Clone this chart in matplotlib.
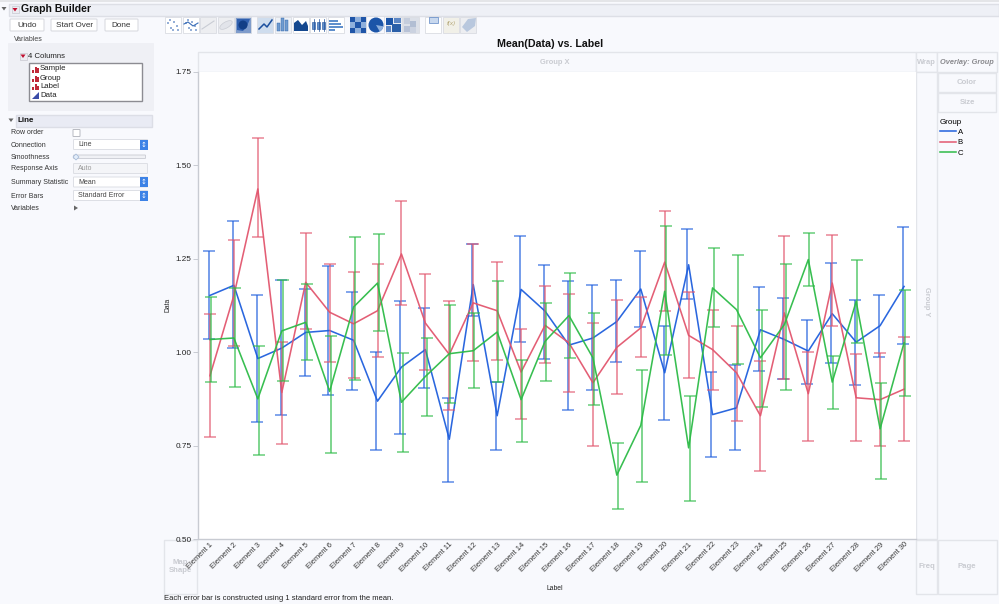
import matplotlib
matplotlib.use('Agg')
import matplotlib.pyplot as plt
from matplotlib.patches import Rectangle, FancyBboxPatch, Polygon, Circle, Wedge, Ellipse
import numpy as np

plt.rcParams['font.family'] = ['Liberation Sans', 'DejaVu Sans']

labels = [f'Element {i}' for i in range(1, 31)]
a_mean = [1.152,1.179,0.983,1.011,1.053,1.058,1.032,0.869,0.960,1.007,0.767,1.181,0.830,1.168,1.110,1.019,1.038,1.082,1.169,0.945,1.234,0.833,0.851,1.060,1.034,1.003,1.103,1.027,1.071,1.176]
a_hi = [1.270,1.351,1.152,1.194,1.169,1.232,1.161,1.000,1.136,1.117,0.877,1.289,0.921,1.310,1.233,1.190,1.181,1.192,1.270,1.069,1.331,0.947,0.965,1.174,1.145,1.086,1.240,1.139,1.154,1.336]
a_lo = [1.034,1.010,0.813,0.833,0.935,0.885,0.900,0.739,0.782,0.903,0.652,1.096,0.737,1.026,0.983,0.844,0.898,0.975,1.068,0.819,1.143,0.720,0.737,0.950,0.927,0.916,0.970,0.911,0.988,1.023]
b_mean = [0.937,1.152,1.437,0.892,1.187,1.107,1.076,1.111,1.263,1.078,0.994,1.132,1.111,0.947,1.072,1.025,0.918,1.013,1.065,1.241,1.045,1.007,0.945,0.830,1.105,0.889,1.185,0.878,0.873,0.901]
b_hi = [1.103,1.300,1.573,1.027,1.318,1.236,1.216,1.235,1.405,1.208,1.138,1.289,1.242,1.062,1.176,1.156,1.078,1.141,1.147,1.378,1.161,1.114,1.069,0.976,1.310,1.001,1.314,0.996,0.997,1.040]
b_lo = [0.772,1.016,1.309,0.753,1.062,0.973,0.932,0.988,1.126,0.953,0.844,0.976,0.978,0.821,0.971,0.894,0.748,0.889,0.988,1.111,0.931,0.900,0.816,0.681,0.928,0.761,1.069,0.761,0.748,0.763]
c_mean = [1.034,1.038,0.875,1.057,1.080,0.895,1.121,1.185,0.866,0.935,0.996,1.004,1.054,0.873,1.029,1.098,0.985,0.671,0.804,1.163,0.744,1.172,1.114,0.985,1.074,1.248,0.920,1.136,0.795,1.025]
c_hi = [1.147,1.172,1.016,1.192,1.183,1.043,1.309,1.316,0.997,1.038,1.127,1.105,1.190,0.980,1.132,1.213,1.106,0.756,0.953,1.337,0.884,1.279,1.261,1.113,1.235,1.320,0.989,1.247,0.918,1.166]
c_lo = [0.919,0.907,0.724,0.922,0.980,0.731,0.926,1.057,0.734,0.828,0.864,0.903,0.921,0.760,0.924,0.985,0.859,0.581,0.652,0.992,0.601,1.067,0.968,0.853,0.898,1.176,0.849,1.024,0.660,0.884]
groups = ['A', 'B', 'C']
y_ticks = [0.50, 0.75, 1.00, 1.25, 1.50, 1.75]
colors = {'A': '#1F5FDD', 'B': '#E2566E', 'C': '#2DBB47'}
series = {'A': (a_mean, a_hi, a_lo), 'B': (b_mean, b_hi, b_lo), 'C': (c_mean, c_hi, c_lo)}
dodge = {'A': -0.05, 'B': 0.0, 'C': 0.05}

BG = '#F8F9FD'
EDGE = '#E3E5EA'
fig = plt.figure(figsize=(9.99, 6.04), dpi=100, facecolor=BG)

# ---------- interface layer, in pixel coordinates ----------
ui = fig.add_axes([0, 0, 1, 1], zorder=0)
ui.set_xlim(0, 999); ui.set_ylim(604, 0); ui.axis('off')

def box(x0, y0, x1, y1, fc=BG, ec=EDGE, lw=1.0):
    ui.add_patch(Rectangle((x0, y0), x1 - x0, y1 - y0, fc=fc, ec=ec, lw=lw))

def txt(x, y, s, size=5.6, color='#222222', ha='left', **kw):
    ui.text(x, y, s, fontsize=size, color=color, ha=ha, va='center', **kw)

def tri_down(x, y, s=3, c='#555555'):
    ui.add_patch(Polygon([(x - s, y - s * .6), (x + s, y - s * .6), (x, y + s * .8)], fc=c, ec='none'))

def redbtn(x, y):
    ui.add_patch(Rectangle((x - 3.5, y - 3.5), 7, 7, fc='#ECECF2', ec='#C8C8D0', lw=.5))
    tri_down(x, y, 2.5, '#C01030')

def button(x0, y0, x1, y1, s):
    ui.add_patch(FancyBboxPatch((x0 + 1, y0 + 1), x1 - x0 - 2, y1 - y0 - 2, boxstyle='round,pad=1',
                                fc='white', ec='#DADCE2', lw=.8))
    txt((x0 + x1) / 2, (y0 + y1) / 2 + .5, s, 5.9, '#333333', ha='center')

# title bar
ui.add_patch(Rectangle((0, 0), 999, 2, fc='#E4E5E8', ec='none'))
box(9, 4, 999, 16, fc='#EEF0F6', ec='#DDDFE6')
tri_down(4, 8.5, 2.5, '#666666')
redbtn(15, 9.5)
txt(21, 9, 'Graph Builder', 7.6, '#111111', fontweight='bold')
button(10, 19, 44, 31, 'Undo')
button(51, 19, 97, 31, 'Start Over')
button(105, 19, 138, 31, 'Done')
txt(14, 39.5, 'Variables', 5.0, '#444444')

# columns panel
ui.add_patch(FancyBboxPatch((9, 44), 144, 66, boxstyle='round,pad=1', fc='#EFF0F5', ec='none'))
redbtn(23, 56)
txt(28, 57, '4 Columns', 5.6)
box(29, 62.5, 141.5, 101, fc='white', ec='#8C8C92', lw=1)
for yy, nm, cont in [(69, 'Sample', False), (78, 'Group', False), (86.5, 'Label', False), (95.5, 'Data', True)]:
    if cont:
        ui.add_patch(Polygon([(32, yy + 3.5), (39, yy + 3.5), (39, yy - 3.5)], fc='#3A4CA8', ec='none'))
    else:
        for dx, h in [(32, 3), (34.5, 6), (37, 4.5)]:
            ui.add_patch(Rectangle((dx, yy + 3.5 - h), 2, h, fc='#C02838', ec='none'))
    txt(40, yy, nm, 5.6)

# line panel
tri_down(11, 120, 2.5, '#666666')
box(16, 115, 152, 126.5, fc='#E9EBF4', ec='#DCDEE6')
txt(18, 120.5, 'Line', 5.8, '#111111', fontweight='bold')
rows = [(133, 'Row order'), (145.5, 'Connection'), (157.5, 'Smoothness'), (169, 'Response Axis'),
        (182.5, 'Summary Statistic'), (196, 'Error Bars'), (208, 'Variables')]
for yy, nm in rows:
    txt(11, yy, nm, 5.0, '#333333')
ui.add_patch(FancyBboxPatch((73.5, 130), 6, 6, boxstyle='round,pad=.5', fc='white', ec='#B8BAC2', lw=.7))

def combo(yy, s, on=True):
    ui.add_patch(FancyBboxPatch((74, yy - 4.5), 73, 9, boxstyle='round,pad=.5',
                                fc='white' if on else '#F4F5F8', ec='#DDDFE5', lw=.7))
    txt(78, yy, s, 5.0, '#444444' if on else '#999999')
    if on:
        ui.add_patch(Rectangle((139.5, yy - 5), 8, 10, fc='#3C82E6', ec='none'))
        ui.text(143.5, yy, '\u2195', fontsize=5, color='white', ha='center', va='center', family='DejaVu Sans')

combo(144.5, 'Line')
ui.add_patch(FancyBboxPatch((74, 155.5), 71, 2.5, boxstyle='round,pad=.5', fc='#F0F1F5', ec='#C9CBD2', lw=.6))
ui.add_patch(Polygon([(73, 157), (76, 154), (79, 157), (76, 160)], fc='#E4EEFA', ec='#A8BCD8', lw=.6))
combo(168.5, 'Auto', on=False)
combo(182, 'Mean')
combo(195.5, 'Standard Error')
ui.add_patch(Polygon([(74, 205.5), (74, 210.5), (78, 208)], fc='#666666', ec='none'))

# toolbar icons
icon_x = [165, 183, 200, 218, 235, 257, 275, 293, 310, 328, 350, 368, 386, 403, 425, 443, 460]
icon_c = ['#FFFFFF', '#FFFFFF', '#EDEEF1', '#EDEEF1', '#7F9CCB', '#CFDDEE', '#EEF2F8', '#FFFFFF', '#FFFFFF', '#FFFFFF',
          '#9DB8DE', '#F8F9FD', '#E8ECF3', '#DCE0E8', '#FFFFFF', '#F1F0E8', '#EDEEF1']
for xx, cc in zip(icon_x, icon_c):
    ui.add_patch(Rectangle((xx, 17), 16, 16, fc=cc, ec='#DADCE2', lw=.6))
for dx, dy in [(3, 6), (6, 11), (9, 5), (12, 9), (5, 3), (13, 13), (8, 13)]:
    ui.add_patch(Circle((165 + dx, 17 + dy), .8, fc='#2F62B0', ec='none'))
    ui.add_patch(Circle((183 + dx, 17 + dy), .8, fc='#2F62B0', ec='none'))
ui.plot([184, 188, 193, 198], [24, 22, 26, 23], color='#3A6DB8', lw=.8)
ui.plot([202, 214], [29, 21], color='#C9CCD4', lw=.8)
ui.add_patch(Ellipse((226, 25), 14, 6, angle=-30, fc='#E2E4EA', ec='#C9CCD4', lw=.5))
ui.add_patch(Polygon([(237, 19), (250, 19), (247, 26), (243, 31), (237, 30)], fc='#2F5FAE', ec='none'))
ui.add_patch(Circle((243, 25), 4.5, fc='#123E86', ec='none'))
ui.plot([259, 264, 267, 272], [29, 24, 27, 20], color='#1B4F9E', lw=1.1)
for dx, h in [(277, 8), (281, 13), (285, 11)]:
    ui.add_patch(Rectangle((dx, 31 - h), 3, h, fc='#6F9BD0', ec='#2F62A8', lw=.3))
ui.add_patch(Polygon([(294, 31), (294, 23), (298, 20), (302, 25), (306, 21), (308, 26), (308, 31)], fc='#14488F', ec='none'))
for dx in [313, 318, 323]:
    ui.plot([dx + .5, dx + .5], [19, 31], color='#1F4F98', lw=.5)
    ui.add_patch(Rectangle((dx - 1, 22), 3, 7, fc='#5F8FCC', ec='#1F4F98', lw=.4))
for w, yy in [(9, 20), (12, 23), (14, 26), (6, 29)]:
    ui.add_patch(Rectangle((329, yy), w, 2.2, fc='#5F8FCC', ec='none'))
for i in range(3):
    for j in range(3):
        ui.add_patch(Rectangle((350 + i * 5.3, 17 + j * 5.3), 5.3, 5.3,
                               fc='#1F55A8' if (i + j) % 2 == 0 else '#8FB0DC', ec='none'))
ui.add_patch(Rectangle((368, 17), 16, 16, fc=BG, ec='none'))
ui.add_patch(Circle((376, 25), 7.5, fc='#1C55A8', ec='none'))
ui.add_patch(Wedge((376, 25), 7.5, 10, 60, fc='#8FB0DC', ec='none'))
for (xa, ya, w, h, c) in [(386, 18, 7, 7, '#1C55A8'), (394, 18, 7, 5, '#5C86C4'), (386, 26, 5, 6, '#5C86C4'),
                          (392, 24, 9, 8, '#2A5FA8')]:
    ui.add_patch(Rectangle((xa, ya), w, h, fc=c, ec='none'))
for (xa, ya, c) in [(404, 18, '#C5CDDC'), (410, 21, '#B2BED3'), (404, 26, '#B8C2D6'), (410, 27, '#CBD2E0')]:
    ui.add_patch(Rectangle((xa, ya), 6, 6, fc=c, ec='none'))
ui.add_patch(Rectangle((429, 17), 9, 6, fc='#C8D8EE', ec='#5C86C4', lw=.5))
ui.text(451, 24, 'f(x)', fontsize=4.5, color='#B5A878', ha='center', va='center', style='italic')
ui.add_patch(Polygon([(462, 27), (468, 19), (476, 18), (475, 26), (467, 32)], fc='#B9C8DE', ec='none'))

# drop zones
zone_c = '#C9CBD1'
box(198, 52, 916, 72, fc=BG)
txt(555, 62, 'Group X', 5.4, zone_c, ha='center', fontweight='bold')
box(916, 52, 937, 72, fc=BG)
txt(926.5, 62, 'Wrap', 5.4, zone_c, ha='center', fontweight='bold')
box(937, 52, 997, 72, fc=BG)
txt(967, 62, 'Overlay: Group', 5.3, '#8A8A8E', ha='center', fontweight='bold', style='italic')
box(938, 73, 996, 92, fc=BG)
txt(967, 82, 'Color', 5.6, zone_c, ha='center', fontweight='bold')
box(938, 93, 996, 112, fc=BG)
txt(967, 102.5, 'Size', 5.6, zone_c, ha='center', fontweight='bold')
box(916, 72, 937, 539, fc=BG)
ui.text(926.5, 302, 'Group Y', fontsize=5.4, color=zone_c, rotation=270, ha='center', va='center', fontweight='bold')
box(164, 540, 197, 594, fc=BG)
txt(180.5, 562, 'Map', 5.6, zone_c, ha='center', fontweight='bold')
txt(180.5, 571, 'Shape', 5.6, zone_c, ha='center', fontweight='bold')
box(916, 540, 937, 594, fc=BG)
txt(926.5, 566, 'Freq', 5.6, zone_c, ha='center', fontweight='bold')
box(938, 540, 997, 594, fc=BG)
txt(967, 566, 'Page', 5.6, zone_c, ha='center', fontweight='bold')

# titles and notes
txt(550, 44, 'Mean(Data) vs. Label', 7.7, '#111111', ha='center', fontweight='bold')
txt(555, 588, 'Label', 4.9, '#222222', ha='center')
ui.text(168, 305, 'Data', fontsize=4.9, color='#222222', rotation=90, ha='center', va='center')
txt(164, 599, 'Each error bar is constructed using 1 standard error from the mean.', 5.5, '#222222')

# ---------- chart ----------
ax = fig.add_axes([198 / 999, 1 - 539 / 604, 718 / 999, 467 / 604], zorder=1, facecolor='white')
x = np.arange(len(labels))
for g in groups:
    m, hi, lo = (np.array(v) for v in series[g])
    ax.errorbar(x + dodge[g], m, yerr=[m - lo, hi - m], fmt='none', ecolor=colors[g], elinewidth=1.2,
                capsize=4.4, capthick=1.1, alpha=.72)
    ax.plot(x, m, color=colors[g], lw=1.15, label=g, alpha=.95)

ax.set_xlim(-0.5, len(labels) - 0.5)
ax.set_ylim(y_ticks[0], y_ticks[-1])
ax.set_yticks(y_ticks)
ax.set_yticklabels([f'{t:.2f}' for t in y_ticks], fontsize=5.9, color='#222222')
ax.set_xticks(x)
ax.set_xticklabels(labels, rotation=45, ha='right', rotation_mode='anchor', fontsize=5.4, color='#333333')
ax.tick_params(axis='y', length=3.6, width=.7, color='#C8CBD2', pad=1.2)
ax.tick_params(axis='x', length=0, pad=1.5)
for s in ['top', 'right']:
    ax.spines[s].set_visible(False)
for s in ['left', 'bottom']:
    ax.spines[s].set_color('#C8CBD2')
    ax.spines[s].set_linewidth(1.0)

# legend drawn as in the side panel
h, l = ax.get_legend_handles_labels()
leg = fig.legend(h, l, title='Group', loc='upper left', bbox_to_anchor=(938 / 999, 1 - 117 / 604), frameon=False,
                 fontsize=5.6, title_fontsize=5.8, labelspacing=.38, handlelength=2.1, handletextpad=.25,
                 borderpad=.2, borderaxespad=0, alignment='left')
leg.set_zorder(3)

fig.savefig('out.png', dpi=100, facecolor=BG)
